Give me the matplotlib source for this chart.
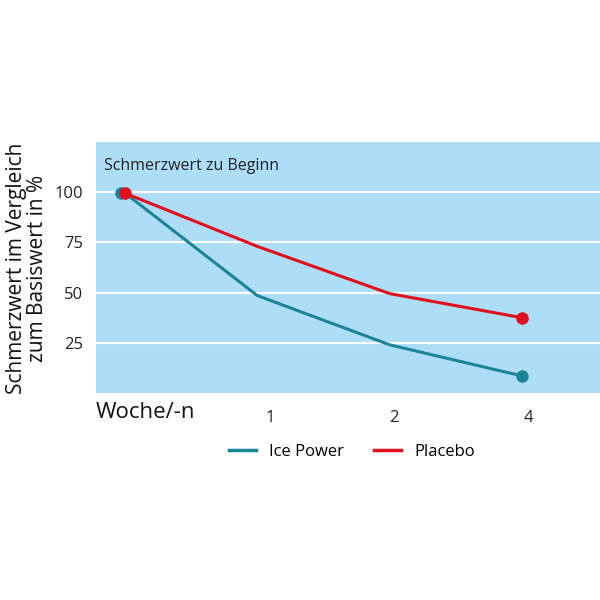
import matplotlib
matplotlib.use("Agg")
import matplotlib.pyplot as plt
from matplotlib.lines import Line2D

weeks = ["", "1", "2", "4"]
ice_power = [99.5, 48.5, 24, 8.5]
placebo = [99.5, 73, 49.5, 37.5]
y_ticks = [25, 50, 75, 100]

teal = "#1B8499"
red = "#E0101E"
bg = "#AEDDF7"

plt.rcParams['font.family'] = ['Open Sans', 'DejaVu Sans']

fig = plt.figure(figsize=(6, 6), dpi=100)
ax = fig.add_axes([96/600, 1-393/600, 504/600, 251/600])
ax.set_facecolor(bg)
x = list(range(len(weeks)))
ax.plot(x, ice_power, color=teal, lw=2.2, solid_joinstyle='miter')
ax.plot(x, placebo, color=red, lw=2.2, solid_joinstyle='miter')
ax.plot([x[0] - 0.03], [ice_power[0]], 'o', color=teal, ms=8)
ax.plot([x[-1]], [ice_power[-1]], 'o', color=teal, ms=8)
ax.plot([x[0]], [placebo[0]], 'o', color=red, ms=8)
ax.plot([x[-1]], [placebo[-1]], 'o', color=red, ms=8)

ax.set_xlim(-0.22, 3.59)
ax.set_ylim(0, 125)
for v in y_ticks:
    ax.axhline(v, color="white", lw=1.5, zorder=0.5)
ax.set_yticks(y_ticks)
ax.set_yticklabels([str(v) for v in y_ticks], fontsize=12, color="#222222")
ax.set_xticks([1.1, 2.03, 3.05])
ax.set_xticklabels(weeks[1:], fontsize=12, color="#222222")
ax.tick_params(length=0)
ax.tick_params(axis='x', pad=12)
ax.tick_params(axis='y', pad=9)
for s in ax.spines.values():
    s.set_visible(False)

ax.text(0.016, 0.905, "Schmerzwert zu Beginn", transform=ax.transAxes,
        fontsize=11.5, color="#222222", va='center', ha='left')

fig.text(96/600, 1-413/600, "Woche/-n", fontsize=16, color="#111111", va='center', ha='left')
fig.text(27/600, 1-268/600, "Schmerzwert im Vergleich\nzum Basiswert in %", fontsize=15,
         rotation=90, va='center', ha='center', color="#111111", linespacing=1.0)

handles = [Line2D([], [], color=teal, lw=2.5), Line2D([], [], color=red, lw=2.5)]
fig.legend(handles, ["Ice Power", "Placebo"], loc='center', bbox_to_anchor=(352/600, 1-452/600),
           ncol=2, frameon=False, fontsize=12, handlelength=1.6, columnspacing=1.8, handletextpad=0.8)

fig.savefig("out.png", dpi=100, facecolor="white")
